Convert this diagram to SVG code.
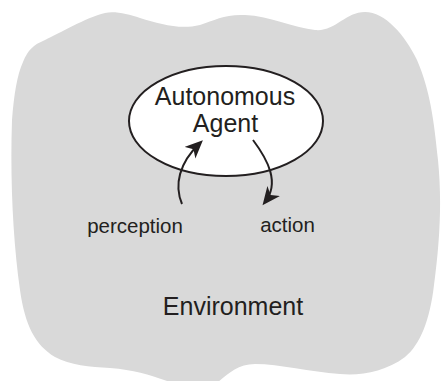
<svg xmlns="http://www.w3.org/2000/svg" width="442" height="381" viewBox="0 0 442 381">
  <style>
    .lbl { font-family: "Liberation Sans", Arial, Helvetica, sans-serif; fill: #231f20; text-anchor: middle; }
    .big { font-size: 25px; }
    .small { font-size: 20.5px; }
    .conn { fill: none; stroke: #231f20; stroke-width: 2; marker-end: url(#head); }
  </style>
  <defs>
    <marker id="head" markerUnits="userSpaceOnUse" markerWidth="19" markerHeight="17" refX="14" refY="8" orient="auto">
      <path d="M0,0 L18,8 L0,16 L5,8 z" fill="#231f20"/>
    </marker>
  </defs>
  <rect width="442" height="381" fill="#ffffff"/>
  <g id="environment">
    <path fill="#d9d9d9" d="M 23,62 C 28,50 33,45 45,40 C 60,33 85,18 105,13 C 115,11 128,14 140,18 C 160,24 180,30 200,25 C 215,20 225,14 245,15 C 270,16 295,28 315,30 C 335,32 345,12 365,12 C 385,12 405,35 417,60 C 430,90 434,120 438,160 C 442,200 440,240 434,285 C 430,320 420,345 405,357 C 385,372 360,376 340,374 C 310,372 280,364 255,364 C 238,364 228,374 218,382 L 170,382 C 150,375 135,370 110,368 C 90,367 70,365 55,357 C 35,345 25,325 20,290 C 13,240 10,180 12,120 C 14,95 17,75 23,62 Z"/>
    <text class="lbl big" x="233" y="315">Environment</text>
  </g>
  <g id="agent">
    <ellipse cx="226" cy="121" rx="97" ry="55" fill="#ffffff" stroke="#231f20" stroke-width="2"/>
    <text class="lbl big" x="225" y="105">Autonomous</text>
    <text class="lbl big" x="225.5" y="131.5">Agent</text>
  </g>
  <g id="perception">
    <text class="lbl small" x="135" y="232.5">perception</text>
  </g>
  <g id="action">
    <text class="lbl small" x="287.5" y="232">action</text>
  </g>
  <g id="connectors">
    <path class="conn" d="M182,204 C174,185 179,163 200,143"/>
    <path class="conn" d="M253,140 C268,160 280,183 265,202"/>
  </g>
</svg>
